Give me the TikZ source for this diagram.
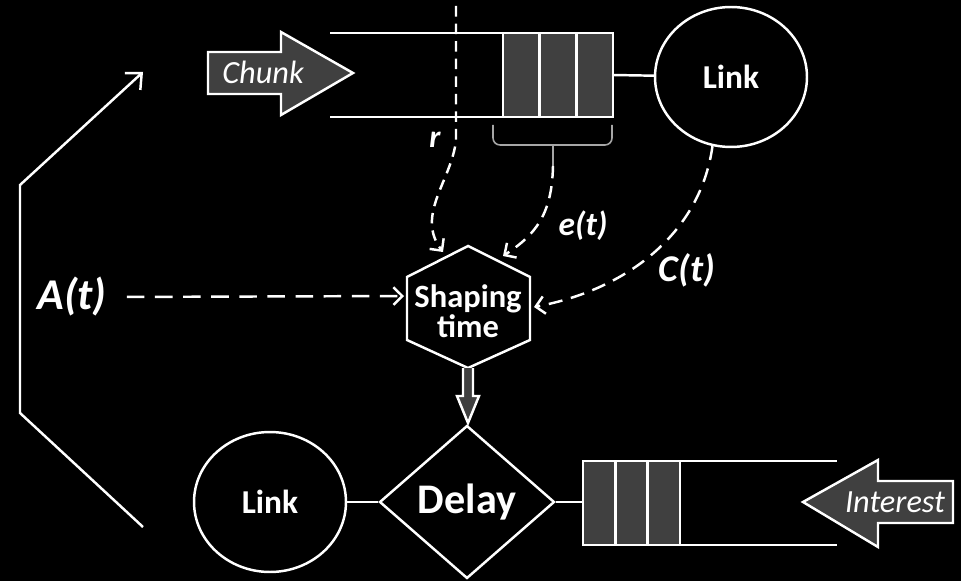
\documentclass[tikz,border=0pt]{standalone}
\usepackage{fontspec}
\setmainfont{Carlito}
\usetikzlibrary{shapes.geometric,arrows.meta}

\tikzset{
  wire/.style={white, line width=1.4pt},
  cue/.style={white, line width=1.4pt, dash pattern=on 7pt off 4.5pt,
    -{Straight Barb[length=5pt,width=10pt]}},
  cell/.style={draw=white, line width=1.4pt, fill=black!75},
  arrowbox/.style={draw=white, line width=1.4pt, fill=black!75},
  linkbox/.style={ellipse, draw=white, line width=1.4pt, minimum width=3.04cm,
    minimum height=2.8cm, text=white, font=\bfseries\fontsize{19}{22}\selectfont},
  lbl/.style={text=white, font=\bfseries\itshape\fontsize{19}{22}\selectfont},
  tag/.style={text=white, font=\itshape\fontsize{18.4}{22}\selectfont},
}

\begin{document}
\begin{tikzpicture}[x=0.02cm, y=-0.02cm]
      \def\hx{468};
      \def\hy{307};
      \fill[black] (0,0) rectangle (961,581);
      % feedback line on the left
      \coordinate (fbin) at (143,527);
      \coordinate (fbout) at (143,72);
      \draw[wire, -{Straight Barb[length=7pt,width=13pt]}] (fbin) -- (20,413) -- (20,185) -- (fbout);
      % chunk queue and link on top
      \draw[arrowbox] (208,52) -- (281,52) -- (281,32) -- (353,73) -- (281,115) -- (281,94) -- (208,94) -- cycle;
      \node[tag] (chunk) at (263,72) {Chunk};
      \draw[wire] (330,33) -- (613,33);
      \draw[wire] (330,117) -- (613,117);
      \foreach \i in {0,1,2}
        \draw[cell] (503+36.7*\i,33) rectangle ++(36.7,84);
      \coordinate (qtop) at (613,75);
      \node[linkbox] (linktop) at (731,77) {Link};
      \draw[wire] (qtop) -- (linktop);
      % bracket under the cells
      \draw[gray!70, line width=0.9pt, rounded corners=4pt] (493,125) -- (493,145) -- (612,145) -- (612,125);
      \coordinate (etop) at (553,166);
      \draw[gray!70, line width=0.9pt] (553,145) -- (etop);
      % shaping time
      \draw[wire] (\hx,\hy-61) -- (\hx+62,\hy-30) -- (\hx+62,\hy+33) -- (\hx,\hy+61) -- (\hx-61,\hy+33) -- (\hx-61,\hy-30) -- cycle;
      \node[text=white, align=center, font=\bfseries\fontsize{18.5}{16}\selectfont] (shaping) at (\hx,\hy+4) {Shaping\\time};
      \coordinate (hexl) at (404,296);
      \coordinate (hexr) at (443,252);
      \coordinate (hexe) at (503,256);
      \coordinate (hexc) at (534,307);
      % inputs
      \coordinate (rtop) at (456,6);
      \draw[cue, dash pattern=on 6pt off 4pt] (rtop) -- (456,140) .. controls (452,180) and (415,215) .. (hexr);
      \node[lbl, font=\bfseries\itshape\fontsize{18}{22}\selectfont] (r) at (435,140) {r};
      \draw[cue] (etop) .. controls (552,215) and (535,235) .. (hexe);
      \node[lbl] (et) at (583,226) {e(t)};
      \draw[cue, dash pattern=on 8pt off 5pt] (linktop.-105) .. controls (700,235) and (625,290) .. (hexc);
      \node[lbl, font=\bfseries\itshape\fontsize{21.5}{24}\selectfont] (ct) at (687,270) {C(t)};
      \node[lbl, font=\bfseries\itshape\fontsize{25}{28}\selectfont] (at) at (72,297) {A(t)};
      \draw[cue, dash pattern=on 10pt off 6pt, shorten <=8pt] (at.east) -- (hexl);
      % shaping time feeds the delay
      \draw[arrowbox] (463,368) -- (463,396) -- (457,396) -- (468,423) -- (479,396) -- (473,396) -- (473,368);
      % interest queue and link at the bottom
      \node[linkbox] (linkbot) at (270,502) {Link};
      \node[diamond, draw=white, line width=1.4pt, minimum width=3.5cm, minimum height=3.06cm,
        inner sep=0pt, text=white, font=\bfseries\fontsize{24}{28}\selectfont] (delay) at (467,502) {Delay};
      \draw[wire] (linkbot) -- (delay);
      \draw[wire] (583,461) -- (837,461);
      \draw[wire] (583,545) -- (837,545);
      \foreach \i in {0,1,2}
        \draw[cell] (583+32.3*\i,461) rectangle ++(32.3,84);
      \coordinate (qbot) at (583,502);
      \draw[wire] (delay) -- (qbot);
      \draw[arrowbox] (953,481) -- (878,481) -- (878,460) -- (803,502) -- (878,547) -- (878,523) -- (953,523) -- cycle;
      \node[tag] (interest) at (895,502) {Interest};
\end{tikzpicture}
\end{document}
